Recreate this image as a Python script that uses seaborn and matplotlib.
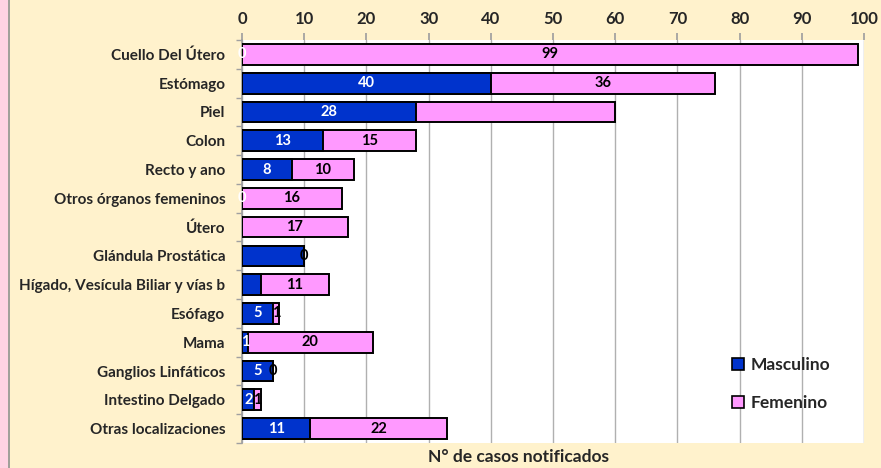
import matplotlib
matplotlib.use("Agg")
import matplotlib.pyplot as plt
import seaborn as sns
import pandas as pd
import numpy as np
from matplotlib.patches import Rectangle

categories = ["Cuello Del Útero", "Estómago", "Piel", "Colon", "Recto y ano",
              "Otros órganos femeninos", "Útero", "Glándula Prostática",
              "Hígado, Vesícula Biliar y vías b", "Esófago", "Mama",
              "Ganglios Linfáticos", "Intestino Delgado", "Otras localizaciones"]
masculino = [0, 40, 28, 13, 8, 0, 0, 10, 3, 5, 1, 5, 2, 11]
femenino = [99, 36, 32, 15, 10, 16, 17, 0, 11, 1, 20, 0, 1, 22]
masc_labels = ["0", "40", "28", "13", "8", "0", "", "", "", "5", "1", "5", "2", "11"]
fem_labels = ["99", "36", "", "15", "10", "16", "17", "0", "11", "1", "20", "0", "1", "22"]
xticks = [0, 10, 20, 30, 40, 50, 60, 70, 80, 90, 100]

BLUE = "#0033CC"
PINK = "#FF99FF"
CREAM = "#FFF2CC"

sns.set_theme(style="white")
plt.rcParams["font.family"] = ["Lato", "DejaVu Sans"]
plt.rcParams["font.weight"] = "bold"

df = pd.DataFrame({"cat": categories, "m": masculino, "f": femenino})
df["total"] = df["m"] + df["f"]

fig = plt.figure(figsize=(8.81, 4.68), dpi=100, facecolor=CREAM)
fig.patches.append(Rectangle((0, 0), 8 / 881, 1, transform=fig.transFigure,
                             facecolor="#FFD3E3", edgecolor="none", zorder=0))
fig.lines.append(plt.Line2D([8.5 / 881, 8.5 / 881], [0, 1], transform=fig.transFigure,
                            color="#909090", lw=1.2))
ax = fig.add_axes([242 / 881, 1 - 443 / 468, 622 / 881, (443 - 40) / 468])
ax.set_facecolor("white")

sns.barplot(data=df, y="cat", x="total", color=PINK, orient="h", ax=ax,
            width=0.72, edgecolor="black", linewidth=1.4, saturation=1, zorder=3)
sns.barplot(data=df, y="cat", x="m", color=BLUE, orient="h", ax=ax,
            width=0.72, edgecolor="black", linewidth=1.4, saturation=1, zorder=4)

for i, (m, f, ml, fl) in enumerate(zip(masculino, femenino, masc_labels, fem_labels)):
    if ml:
        ax.text(m / 2, i, ml, color="white", ha="center", va="center",
                fontsize=10.5, fontweight="bold", zorder=6)
    if fl:
        ax.text(m + f / 2, i, fl, color="black", ha="center", va="center",
                fontsize=10.5, fontweight="bold", zorder=6)

ax.set_xlim(0, 100)
ax.set_ylim(len(categories) - 0.5, -0.5)
ax.set_xticks(xticks)
ax.xaxis.tick_top()
ax.xaxis.set_label_position("top")
ax.tick_params(axis="x", which="both", top=True, bottom=False, length=5, color="#A0A0A0",
               labelsize=12, pad=4)
ax.tick_params(axis="y", which="major", left=False, length=0, labelsize=11, pad=12)
ax.set_yticks(np.arange(len(categories) + 1) - 0.5, minor=True)
ax.tick_params(axis="y", which="minor", left=True, length=4, color="#A0A0A0")
for lab in ax.get_xticklabels() + ax.get_yticklabels():
    lab.set_fontweight("bold")
ax.set_xlabel("")
ax.set_ylabel("")
ax.grid(axis="x", color="#B0B0B0", lw=1, zorder=0)
ax.set_axisbelow(True)
for s in ["top", "right", "bottom"]:
    ax.spines[s].set_visible(False)
ax.spines["left"].set_color("#A0A0A0")

handles = [Rectangle((0, 0), 1, 1, facecolor=BLUE, edgecolor="black", lw=1.2),
           Rectangle((0, 0), 1, 1, facecolor=PINK, edgecolor="black", lw=1.2)]
leg = ax.legend(handles, ["Masculino", "Femenino"], loc="upper left",
                bbox_to_anchor=(0.787, 0.213), frameon=False, borderpad=0, borderaxespad=0,
                prop={"weight": "bold", "size": 12.5}, handlelength=0.7, handleheight=0.7,
                labelspacing=1.25, handletextpad=0.4)

fig.text(518 / 881, 1 - 457 / 468, "N° de casos notificados", ha="center", va="center",
         fontsize=12.5, fontweight="bold")

fig.savefig("out.png", dpi=100, facecolor=CREAM)
